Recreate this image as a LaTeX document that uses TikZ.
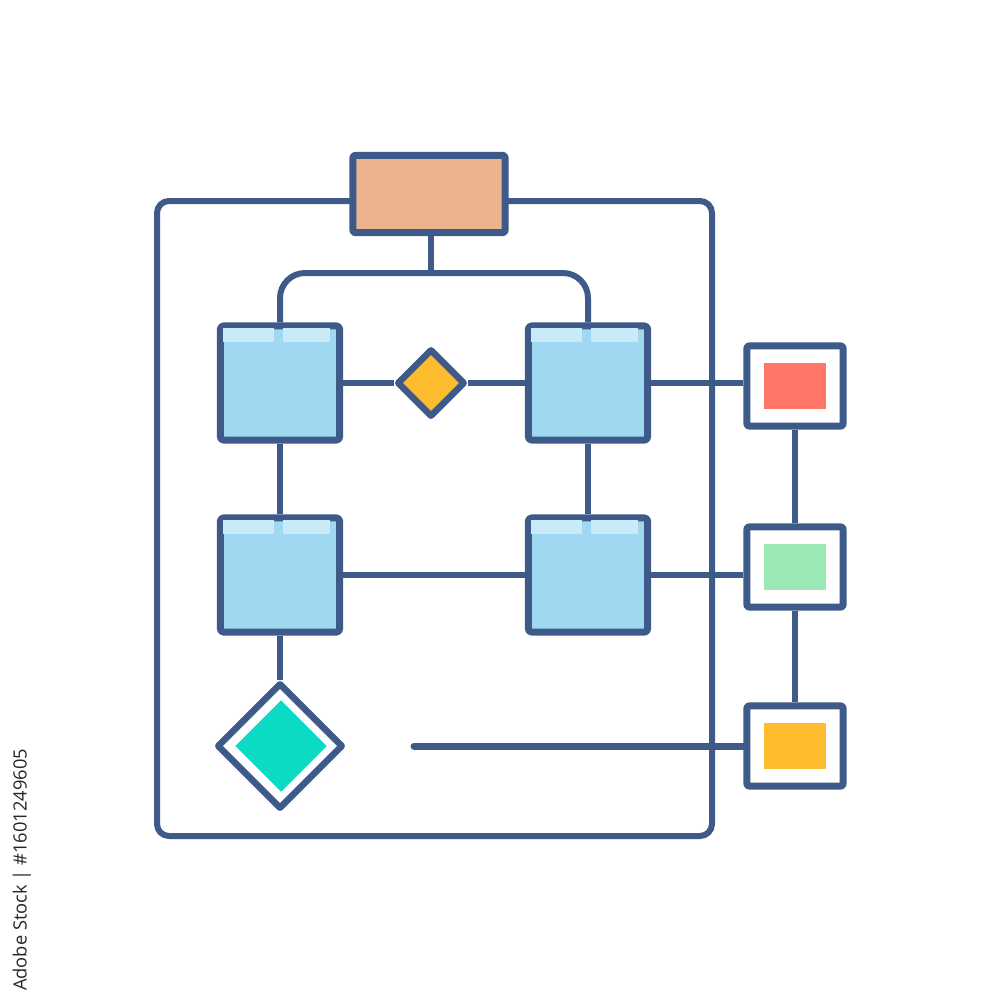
\documentclass[tikz,border=0pt]{standalone}
\usepackage{fontspec}
\newfontfamily\wmfont{Open Sans}
\usetikzlibrary{shapes.geometric,calc}
\definecolor{ink}{RGB}{61,90,137}
\definecolor{boxblue}{RGB}{160,216,242}
\definecolor{hlblue}{RGB}{202,234,247}
\definecolor{tan}{RGB}{235,179,142}
\definecolor{gold}{RGB}{252,188,46}
\definecolor{teal}{RGB}{11,218,197}
\definecolor{redc}{RGB}{255,117,103}
\definecolor{greenc}{RGB}{154,232,180}
\begin{document}
\begin{tikzpicture}[x=0.01cm,y=-0.01cm,
  line join=round,
  conn/.style={draw=ink, line width=0.06cm},
  bluebox/.style={draw=ink, line width=0.07cm, fill=boxblue, minimum width=1.19cm, minimum height=1.14cm, inner sep=0pt, rounded corners=0.03cm},
  sidebox/.style={draw=ink, line width=0.07cm, fill=white, minimum width=0.96cm, minimum height=0.80cm, inner sep=0pt, rounded corners=0.02cm},
  inbox/.style={minimum width=0.62cm, minimum height=0.46cm, inner sep=0pt},
  hl/.style={fill=hlblue}
]
\useasboundingbox (0,0) rectangle (1000,1000);
\fill[white] (0,0) rectangle (1000,1000);

% frame
\draw[conn, rounded corners=0.12cm] (157,201) rectangle (712,836);

% top box
\node[draw=ink, line width=0.07cm, fill=tan, minimum width=1.52cm, minimum height=0.77cm, inner sep=0pt, rounded corners=0.02cm] (top) at (429,194) {};

% blue boxes
\node[bluebox] (b1) at (280,383) {};
\node[bluebox] (b2) at (588,383) {};
\node[bluebox] (b3) at (280,575) {};
\node[bluebox] (b4) at (588,575) {};

% highlights
\foreach \b in {b1,b2,b3,b4}{
  \fill[hl] ($(\b.north west)+(6,6)$) rectangle ($(\b.north west)+(57,20)$);
  \fill[hl] ($(\b.north west)+(66,6)$) rectangle ($(\b.north west)+(113,20)$);
}

% yellow diamond
\node[diamond, draw=ink, line width=0.065cm, fill=gold, minimum width=0.68cm, minimum height=0.68cm, inner sep=0pt, aspect=1] (yd) at (431,383) {};

% teal diamond
\node[diamond, draw=ink, line width=0.065cm, fill=white, minimum width=1.26cm, minimum height=1.26cm, inner sep=0pt, aspect=1] (td) at (280,746) {};
\node[diamond, fill=teal, minimum width=0.92cm, minimum height=0.92cm, inner sep=0pt, aspect=1] (tdi) at (281,746) {};

% side boxes
\node[sidebox] (rb) at (795,386) {};
\node[inbox, fill=redc] (rbi) at (795,386) {};
\node[sidebox] (gb) at (795,567) {};
\node[inbox, fill=greenc] (gbi) at (795,567) {};
\node[sidebox] (yb) at (795,746) {};
\node[inbox, fill=gold] (ybi) at (795,746) {};

% connectors
\coordinate (bar) at (431,273);
\draw[conn] (top.south -| bar) -- (bar);
\draw[conn, rounded corners=0.25cm] (b1.north) |- (bar) -| (b2.north);
\draw[conn] (b1) -- (yd);
\draw[conn] (yd) -- (b2);
\draw[conn] (b1.south) -- (b3.north);
\draw[conn] (b2.south) -- (b4.north);
\draw[conn] (b3) -- (b4);
\draw[conn] (b3.south) -- (td.north);
\draw[conn] (b2.east) -- (b2.east -| rb.west);
\draw[conn] (b4.east) -- (b4.east -| gb.west);
\coordinate (ls) at (414,746);
\draw[conn, line width=0.07cm, line cap=round] (ls) -- (yb.west);
\draw[conn] (rb.south) -- (gb.north);
\draw[conn] (gb.south) -- (yb.north);

% vertical stock label
\node[rotate=90, font=\wmfont\fontsize{5.2}{6}\selectfont, text=black!85, inner sep=0pt] (wm) at (22,870) {Adobe Stock | \#1601249605};
\end{tikzpicture}
\end{document}
